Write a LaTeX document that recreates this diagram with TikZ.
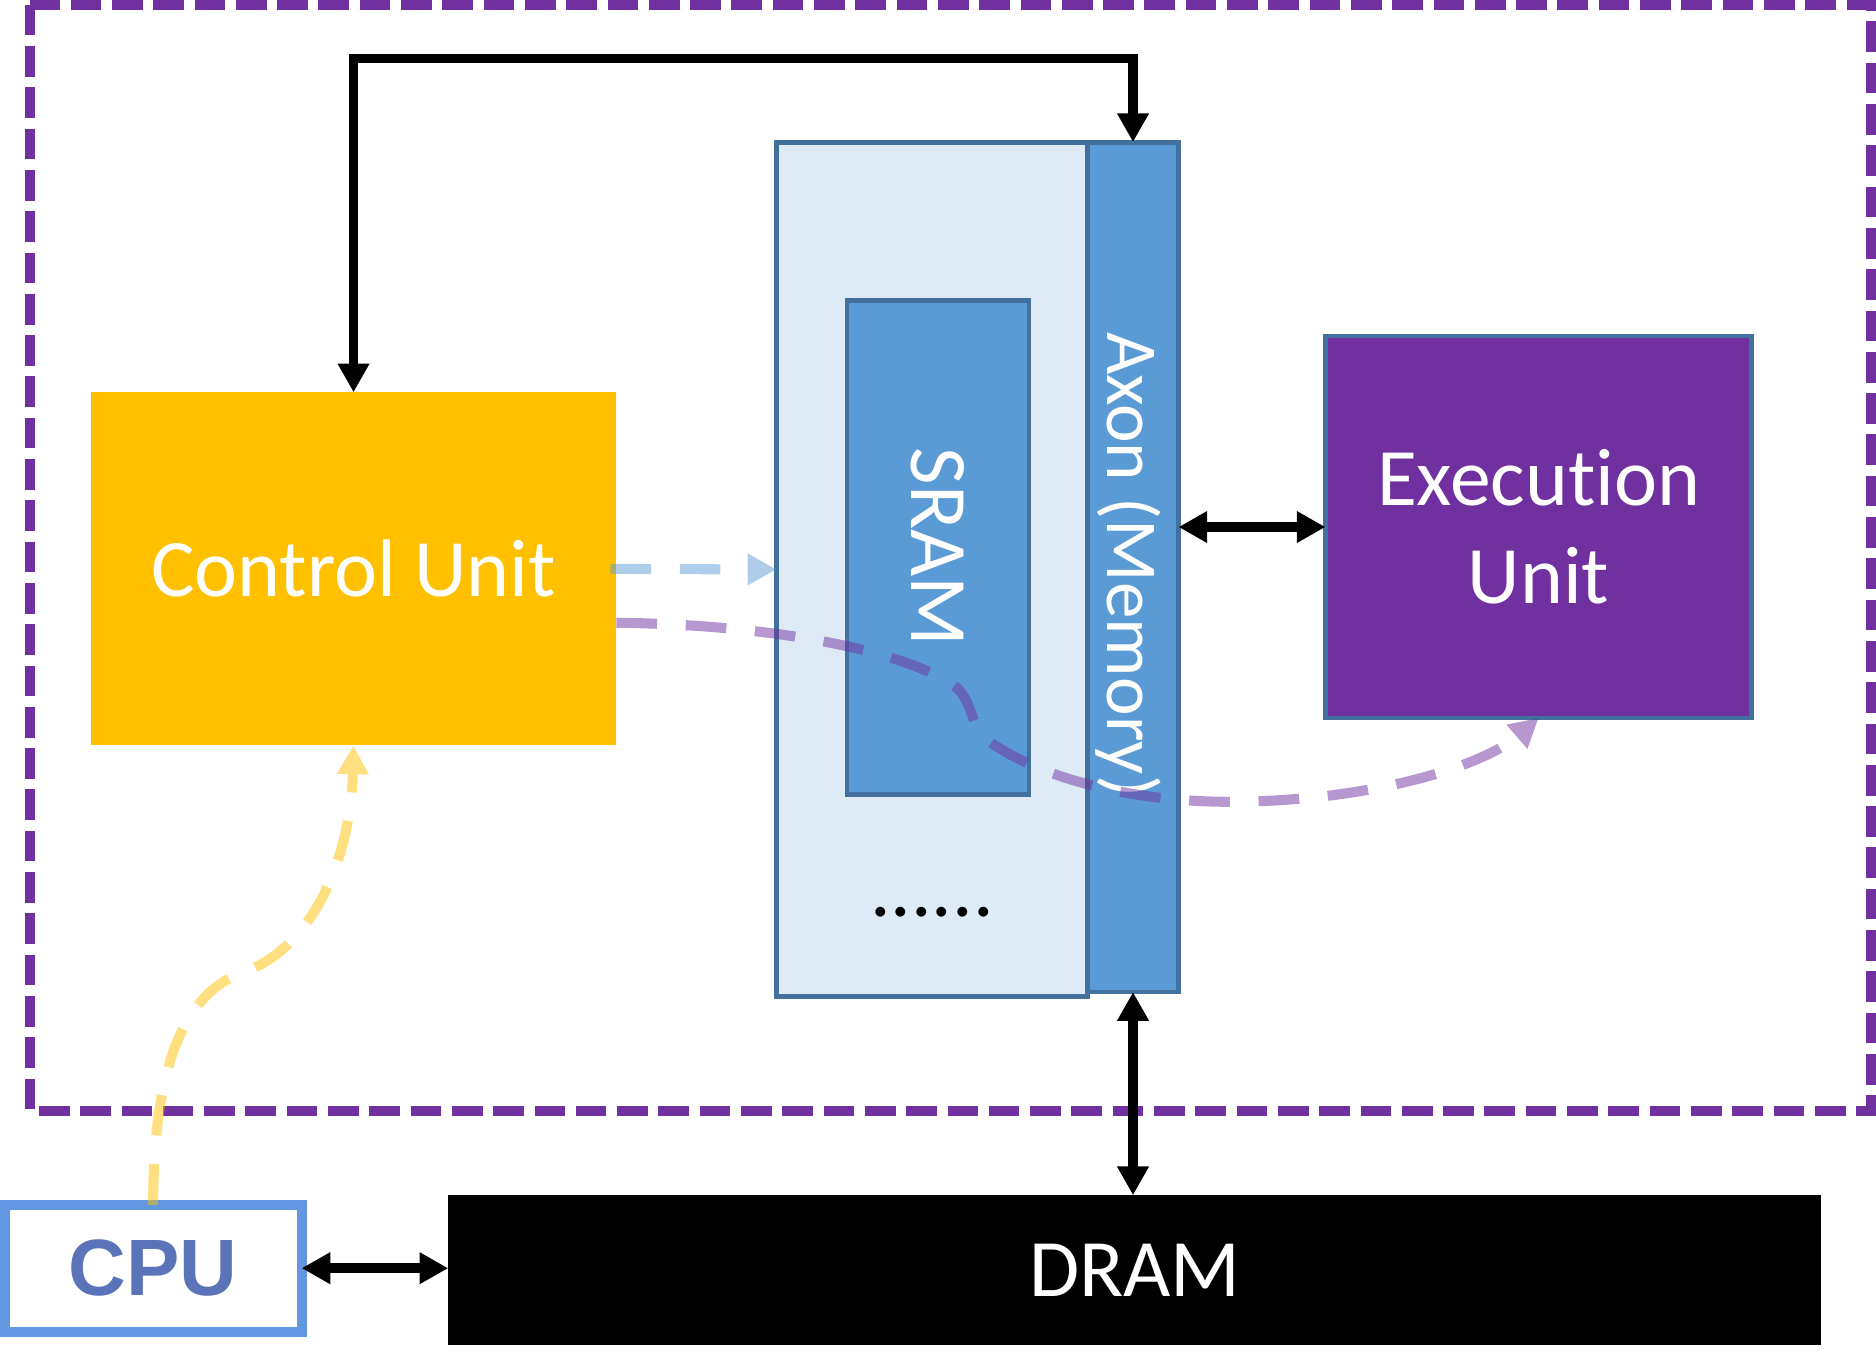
\documentclass[tikz,border=0pt]{standalone}
\usepackage{fontspec}
\setmainfont{Carlito}[Ligatures=NoCommon]
\newfontfamily\cpufont{Liberation Sans}
\usepackage{tikz}
\usetikzlibrary{arrows.meta, positioning, calc}

\definecolor{cuorange}{HTML}{FFC000}
\definecolor{memlight}{HTML}{DEEBF7}
\definecolor{memblue}{HTML}{5B9BD5}
\definecolor{edgeblue}{HTML}{41719C}
\definecolor{eupurple}{HTML}{7030A0}
\definecolor{cpuedge}{HTML}{6396E0}
\definecolor{cputext}{HTML}{5B73B8}

\newcommand\unitfont{\fontsize{19.4}{23.3}\selectfont}

\begin{document}
\begin{tikzpicture}[x=0.01cm, y=-0.01cm,
    >={Triangle[length=0.24cm,width=0.25cm]},
    flow/.style={line width=0.084cm, dash pattern=on 0.34cm off 0.24cm, ->},
    faded/.style={transparency group, opacity=0.5}]
        \useasboundingbox (0,0) rectangle (1568,1144.3);
        % accelerator boundary
        \draw[eupurple, line width=0.084cm, dash pattern=on 0.256cm off 0.089cm] (25,4) rectangle (1564,928.5);
        \begin{scope}[every node/.style={rectangle, inner sep=0pt, outer sep=0pt, text=white, font=\unitfont}]
          \node[fill=cuorange, minimum width=4.39cm, minimum height=2.95cm] (cu) at (295.5,475.5) {Control Unit};
          \node[fill=memlight, draw=edgeblue, line width=0.04cm, minimum width=2.60cm, minimum height=7.14cm] (mem) at (779,476) {};
          \node[fill=memblue, draw=edgeblue, line width=0.04cm, minimum width=0.76cm, minimum height=7.10cm] (axon) at (947,474) {};
          \node[fill=memblue, draw=edgeblue, line width=0.04cm, minimum width=1.52cm, minimum height=4.13cm] (sram) at (784,457.5) {};
          \node[rotate=-90] (sramtext) at (sram) {SRAM};
          \node[rotate=-90, font=\fontsize{17.4}{21}\selectfont] (axontext) at (943,472) {Axon (Memory)};
          \node[text=black, anchor=base] (dots) at (779,766) {......};
          \node[fill=eupurple, draw=edgeblue, line width=0.04cm, minimum width=3.56cm, minimum height=3.19cm, align=center] (eu) at (1286,440.5) {Execution\\Unit};
          \node[fill=white, draw=cpuedge, line width=0.084cm, minimum width=2.48cm, minimum height=1.06cm, text=cputext, font=\cpufont\bfseries\fontsize{19}{23}\selectfont] (cpu) at (128,1060) {CPU};
          \node[fill=black, minimum width=11.47cm, minimum height=1.25cm] (dram) at (948.5,1061.5) {DRAM};
        \end{scope}
        % control path
        \coordinate (bend) at (620,49);
        \draw[line width=0.08cm, <->] (cu.north) |- (bend) -| (axon.north);
        \begin{scope}[every edge/.style={draw=black, line width=0.08cm, <->}]
          \path (axon.east |- eu.west) edge (eu.west);
          \path (axon.south) edge (axon.south |- dram.north);
          \path (cpu.east) edge (cpu.east -| dram.west);
        \end{scope}
        % data flows
        \begin{scope}[faded]
          \draw[flow, memblue] ([xshift=-0.05cm]cu.east) -- (mem.west);
        \end{scope}
        \begin{scope}[faded]
          \draw[flow, eupurple] ([yshift=-0.45cm]cu.east) .. controls (650,522) and (760,545) .. (800,575)
            .. controls (815,590) and (810,610) .. (830,622)
            .. controls (880,655) and (960,672) .. (1040,670)
            .. controls (1150,668) and (1240,640) .. (eu.south);
        \end{scope}
        \begin{scope}[faded]
          \draw[flow, cuorange] (cpu.north) .. controls (128,900) and (150,830) .. (205,812)
            .. controls (260,792) and (293,720) .. (cu.south);
        \end{scope}
      \end{tikzpicture}
\end{document}
